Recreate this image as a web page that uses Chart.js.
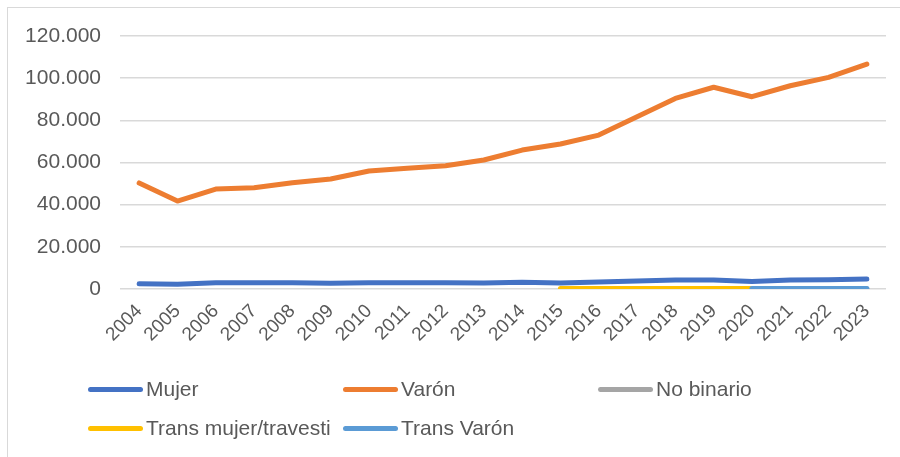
<!DOCTYPE html>
<html>
<head>
<meta charset="utf-8">
<script src="https://cdn.jsdelivr.net/npm/chart.js@4/dist/chart.umd.min.js"></script>
<style>
  body { margin: 0; background: #fff; font-family: "Liberation Sans", Arial, sans-serif; }
  #wrap { position: relative; width: 900px; height: 457px; }
  #frame { position: absolute; left: 7px; top: 7px; right: 0; bottom: 0; border-left: 1.5px solid #d9d9d9; border-top: 1.5px solid #d9d9d9; }
  #box { position: absolute; left: 0; top: 0; width: 900px; height: 457px; }
  #legend { position: absolute; left: 88px; top: 377px; }
  .item { position: absolute; display: flex; align-items: center; white-space: nowrap; font-size: 21px; color: #595959; }
  .item span.ln { display: inline-block; width: 55px; height: 5px; border-radius: 3px; margin-right: 3px; }
</style>
</head>
<body>
<div id="wrap">
  <div id="frame"></div>
  <div id="box"><canvas id="graficoGenero"></canvas></div>
  <div id="legend"></div>
</div>
<script>
var years = ['2004', '2005', '2006', '2007', '2008', '2009', '2010', '2011', '2012', '2013',
             '2014', '2015', '2016', '2017', '2018', '2019', '2020', '2021', '2022', '2023'];
var mujer = [2500, 2200, 3000, 3000, 3000, 2700, 3000, 3000, 3000, 2800,
             3200, 2900, 3300, 3800, 4300, 4300, 3500, 4300, 4400, 4700];
var varon = [50300, 41700, 47400, 48000, 50400, 52200, 56000, 57300, 58500, 61200,
             65900, 68800, 73000, 81700, 90400, 95700, 91200, 96400, 100400, 106700];
var noBinario = [null, null, null, null, null, null, null, null, null, null,
                 null, null, null, null, null, null, null, 100, 100, 100];
var transMujer = [null, null, null, null, null, null, null, null, null, null,
                  null, 200, 200, 200, 200, 200, 200, null, null, null];
var transVaron = [null, null, null, null, null, null, null, null, null, null,
                  null, null, null, null, null, null, 200, 200, 200, 200];
var yTicks = [0, 20000, 40000, 60000, 80000, 100000, 120000];

var series = [
  { label: 'Mujer', data: mujer, color: '#4472C4', order: 1 },
  { label: 'Varón', data: varon, color: '#ED7D31', order: 2 },
  { label: 'No binario', data: noBinario, color: '#A5A5A5', order: 5 },
  { label: 'Trans mujer/travesti', data: transMujer, color: '#FFC000', order: 4 },
  { label: 'Trans Varón', data: transVaron, color: '#5B9BD5', order: 3 }
];

function fmt(v) {
  return String(v).replace(/\B(?=(\d{3})+(?!\d))/g, '.');
}

var ctx = document.getElementById('graficoGenero').getContext('2d');
var graficoGenero = new Chart(ctx, {
  type: 'line',
  data: {
    labels: years,
    datasets: series.map(function(s) {
      return {
        label: s.label,
        data: s.data,
        borderColor: s.color,
        backgroundColor: s.color,
        borderWidth: 5,
        borderCapStyle: 'round',
        borderJoinStyle: 'round',
        pointRadius: 0,
        tension: 0,
        order: s.order
      };
    })
  },
  options: {
    responsive: true,
    maintainAspectRatio: false,
    animation: false,
    layout: { padding: { top: 36, left: 0, right: 14, bottom: 0 } },
    scales: {
      x: {
        offset: true,
        grid: { display: false },
        border: { display: false },
        ticks: {
          color: '#595959',
          font: { family: 'Liberation Sans', size: 19 },
          minRotation: 45,
          maxRotation: 45,
          autoSkip: false,
          padding: 3
        },
        afterFit: function(scale) { scale.height = 168; }
      },
      y: {
        min: 0,
        max: 120000,
        afterBuildTicks: function(scale) {
          scale.ticks = yTicks.map(function(v) { return { value: v }; });
        },
        grid: { color: '#d9d9d9', lineWidth: 1.5, drawTicks: false },
        border: { display: false },
        ticks: {
          color: '#595959',
          font: { family: 'Liberation Sans', size: 21 },
          padding: 19,
          callback: function(v) { return fmt(v); }
        },
        afterFit: function(scale) { scale.width = 120; }
      }
    },
    plugins: {
      legend: { display: false },
      tooltip: { enabled: false }
    }
  }
});

// leyenda en grilla de 3 columnas como en el original
var legend = document.getElementById('legend');
series.forEach(function(s, i) {
  var el = document.createElement('div');
  el.className = 'item';
  el.style.left = (i % 3) * 255 + 'px';
  el.style.top = Math.floor(i / 3) * 39 + 'px';
  el.innerHTML = '<span class="ln" style="background:' + s.color + '"></span>' + s.label;
  legend.appendChild(el);
});
</script>
</body>
</html>
